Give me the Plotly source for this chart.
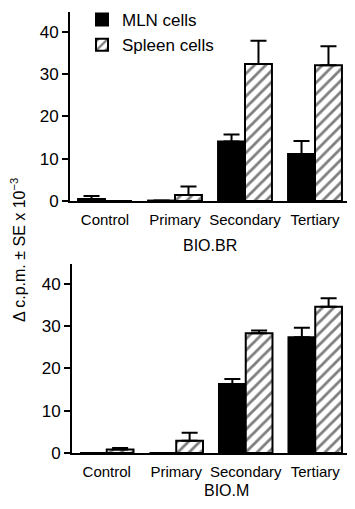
import plotly.graph_objects as go

categories = ["Control", "Primary", "Secondary", "Tertiary"]

# BIO.BR (top panel)
br_mln = [0.5, 0.1, 14.1, 11.1]
br_mln_top = [1.2, None, 15.7, 14.2]
br_spleen = [0.0, 1.4, 32.4, 32.1]
br_spleen_top = [None, 3.4, 37.9, 36.6]

# BIO.M (bottom panel)
m_mln = [0.0, 0.0, 16.3, 27.4]
m_mln_top = [None, None, 17.5, 29.6]
m_spleen = [0.8, 2.9, 28.3, 34.6]
m_spleen_top = [1.2, 4.8, 29.0, 36.6]

y_ticks = [0, 10, 20, 30, 40]
panel_titles = ["BIO.BR", "BIO.M"]
series_names = ["MLN cells", "Spleen cells"]

# page body has an 8px margin: figure occupies window pixels 8..347 x 8..501
OFF = 8
W, H = 339, 493
FONT = "Liberation Sans, Arial, sans-serif"


def fx(p):
    return (p - OFF) / W


def fy(p):
    return 1 - (p - OFF) / H


def up_err(vals, tops):
    return [None if t is None else t - v for v, t in zip(vals, tops)]


fig = go.Figure()

panels = [
    (br_mln, br_mln_top, br_spleen, br_spleen_top, "x", "y", True),
    (m_mln, m_mln_top, m_spleen, m_spleen_top, "x2", "y2", False),
]

for mln, mln_t, sp, sp_t, xa, ya, show in panels:
    fig.add_trace(go.Bar(
        x=categories, y=mln, name=series_names[0], xaxis=xa, yaxis=ya,
        showlegend=show, legendgroup="mln",
        marker=dict(color="black", line=dict(color="black", width=2)),
        error_y=dict(type="data", symmetric=False, array=up_err(mln, mln_t),
                     arrayminus=[0] * 4, color="black", thickness=2, width=8),
    ))
    fig.add_trace(go.Bar(
        x=categories, y=sp, name=series_names[1], xaxis=xa, yaxis=ya,
        showlegend=show, legendgroup="sp",
        marker=dict(color="white", line=dict(color="black", width=2),
                    pattern=dict(shape="/", fgcolor="black", bgcolor="white",
                                 size=8, solidity=0.35)),
        error_y=dict(type="data", symmetric=False, array=up_err(sp, sp_t),
                     arrayminus=[0] * 4, color="black", thickness=2, width=8),
    ))

xfont = dict(family=FONT, size=15, color="black")
yfont = dict(family=FONT, size=17, color="black")
line_style = dict(showline=True, linecolor="black", linewidth=2, showgrid=False,
                  zeroline=False)
xr = [-0.5, -0.5 + 277 / 70]

fig.update_layout(
    width=W, height=H,
    margin=dict(l=0, r=0, t=0, b=0, autoexpand=False),
    paper_bgcolor="white", plot_bgcolor="white",
    barmode="group", bargap=0.23, bargroupgap=0,
    font=dict(family=FONT, color="black"),
    showlegend=True,
    legend=dict(x=fx(82), y=fy(2), xanchor="left", yanchor="top",
                font=dict(family=FONT, size=17, color="black"),
                bgcolor="rgba(0,0,0,0)", tracegroupgap=0),
    xaxis=dict(domain=[fx(70), 1.0], anchor="y", range=xr,
               ticks="", ticklabelstandoff=4, tickfont=xfont, **line_style),
    yaxis=dict(domain=[fy(201), fy(12)], anchor="x", range=[0, 44.7],
               tickvals=y_ticks, ticks="outside", ticklen=6, tickwidth=2,
               tickcolor="black", tickfont=yfont, **line_style),
    xaxis2=dict(domain=[fx(72), 1.0], anchor="y2", range=xr,
                ticks="", ticklabelstandoff=4, tickfont=xfont, **line_style),
    yaxis2=dict(domain=[fy(453), fy(264)], anchor="x2", range=[0, 44.7],
                tickvals=y_ticks, ticks="outside", ticklen=6, tickwidth=2,
                tickcolor="black", tickfont=yfont, **line_style),
)

fig.add_annotation(x=fx(210), y=fy(245), xref="paper", yref="paper",
                   xanchor="center", yanchor="middle",
                   text=panel_titles[0], showarrow=False,
                   font=dict(family=FONT, size=16, color="black"))
fig.add_annotation(x=fx(226), y=fy(490), xref="paper", yref="paper",
                   xanchor="center", yanchor="middle",
                   text=panel_titles[1], showarrow=False,
                   font=dict(family=FONT, size=16, color="black"))
fig.add_annotation(x=fx(18), y=fy(250), xref="paper", yref="paper",
                   xanchor="center", yanchor="middle",
                   text="Δ c.p.m. ± SE x 10<sup>−3</sup>", showarrow=False,
                   textangle=-90, font=dict(family=FONT, size=16, color="black"))

fig.write_html("out.html")
